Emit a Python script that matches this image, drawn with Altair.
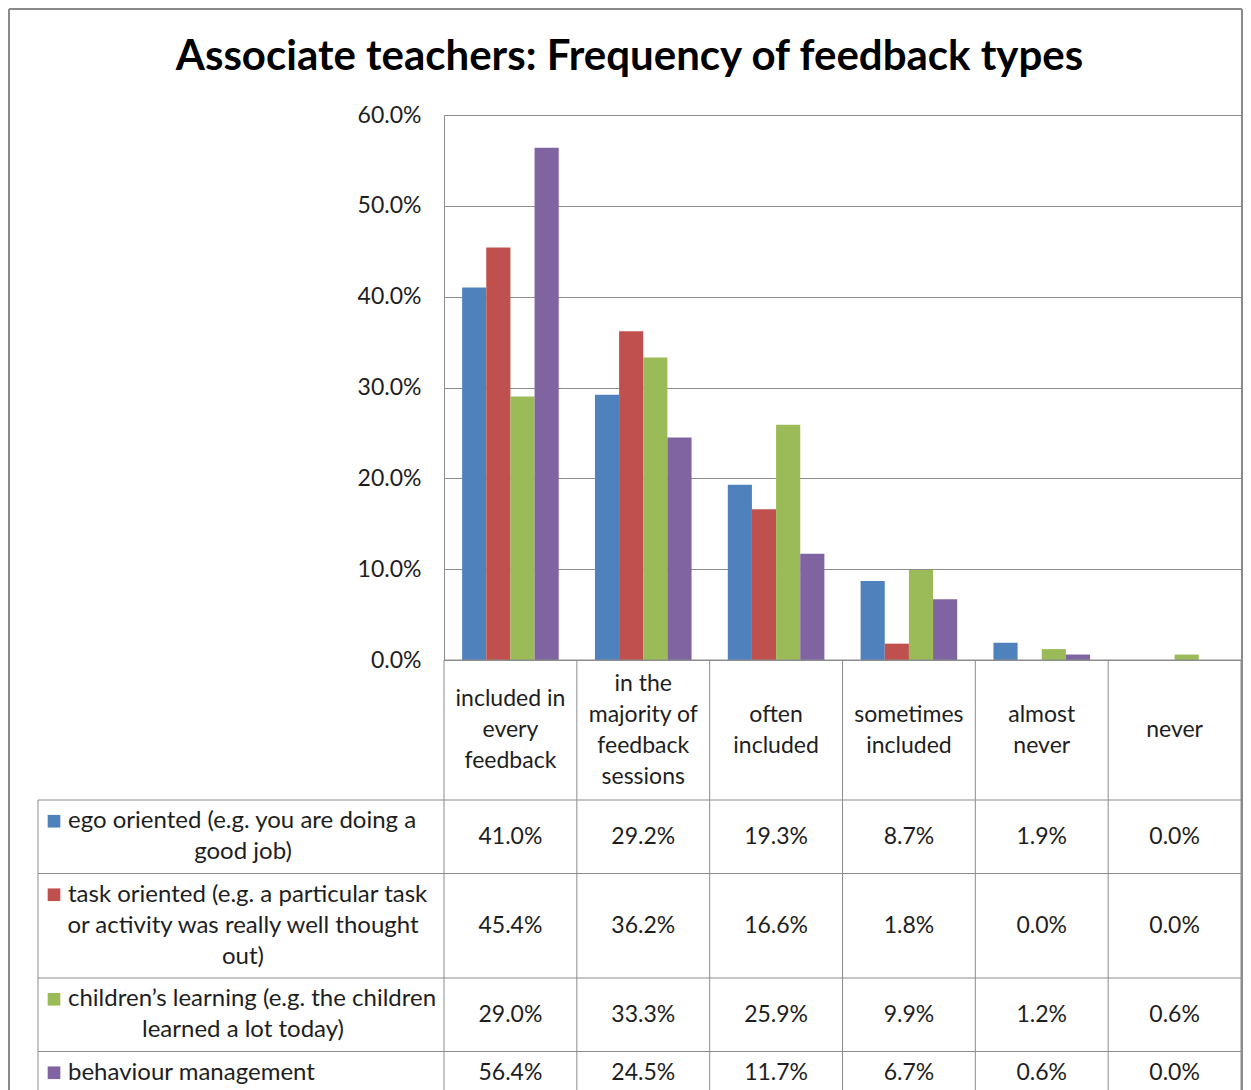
import altair as alt
import pandas as pd

# ---------------- data ----------------
title_text = "Associate teachers: Frequency of feedback types"
categories = [
    "included in\nevery\nfeedback",
    "in the\nmajority of\nfeedback\nsessions",
    "often\nincluded",
    "sometimes\nincluded",
    "almost\nnever",
    "never",
]
series = [
    "ego oriented (e.g. you are doing a\ngood job)",
    "task oriented  (e.g. a particular task\nor activity was really well thought\nout)",
    "children\u2019s learning (e.g. the children\nlearned a lot today)",
    "behaviour management",
]
colors = ["#4F81BD", "#C0504D", "#9BBB59", "#8064A2"]
ego = [41.0, 29.2, 19.3, 8.7, 1.9, 0.0]
task = [45.4, 36.2, 16.6, 1.8, 0.0, 0.0]
children = [29.0, 33.3, 25.9, 9.9, 1.2, 0.6]
behaviour = [56.4, 24.5, 11.7, 6.7, 0.6, 0.0]
values = [ego, task, children, behaviour]
y_ticks = [0, 10, 20, 30, 40, 50, 60]

# ---------------- layout (pixels relative to plot origin) ----------------
W, H = 797, 545
PAD_L, PAD_T = 436, 107
SVG_W, SVG_H = 1235, 1090
STEP = W / len(categories)
LINE_H = 31
FONT = "Lato"
TXT = "#1e1e1e"
GRID = "#8c8c8c"
FS = 23
FS_LAB = 24
LEFT_EDGE = -406
FIRST_X = -376
CONT_X = -201
SQ_X = -390
BORDER_L, BORDER_T, BORDER_R, BOTTOM = -435, -106, W + 1, 1100

cat_keys = [c.replace("\n", " ") for c in categories]
ser_keys = [s.replace("\n", " ") for s in series]

bar_rows = []
for si, vals in enumerate(values):
    for ci, v in enumerate(vals):
        bar_rows.append({"cat": cat_keys[ci], "ser": ser_keys[si], "val": v})
bar_df = pd.DataFrame(bar_rows)

# table geometry
header_lines = max(len(c.split("\n")) for c in categories)
header_top = H
header_bot = header_top + header_lines * LINE_H + 16
row_tops = []
y = header_bot
for s in series:
    row_tops.append(y)
    y += len(s.split("\n")) * LINE_H + 11.5
row_tops.append(y)

lines = []
lines.append({"x": 0, "x2": W, "y": header_top, "y2": header_top})
for i in range(len(categories) + 1):
    lines.append({"x": i * STEP, "x2": i * STEP, "y": header_top, "y2": BOTTOM})
lines.append({"x": LEFT_EDGE, "x2": LEFT_EDGE, "y": header_bot, "y2": BOTTOM})
for t in row_tops:
    lines.append({"x": LEFT_EDGE, "x2": W, "y": t, "y2": t})
lines_df = pd.DataFrame(lines)

border_df = pd.DataFrame([
    {"x": BORDER_L, "x2": BORDER_L, "y": BORDER_T, "y2": BOTTOM},
    {"x": BORDER_L, "x2": BORDER_R, "y": BORDER_T, "y2": BORDER_T},
    {"x": BORDER_R, "x2": BORDER_R, "y": BORDER_T, "y2": BOTTOM},
])

center_txt, cont_txt, left_txt, squares = [], [], [], []
hc = (header_top + header_bot) / 2
for ci, c in enumerate(categories):
    parts = c.split("\n")
    n = len(parts)
    for k, p in enumerate(parts):
        center_txt.append({"x": (ci + 0.5) * STEP, "y": hc + (k - (n - 1) / 2) * LINE_H, "t": p})
for si, s in enumerate(series):
    parts = s.split("\n")
    n = len(parts)
    rc = (row_tops[si] + row_tops[si + 1]) / 2
    for k, p in enumerate(parts):
        yy = rc + (k - (n - 1) / 2) * LINE_H
        if k == 0:
            left_txt.append({"x": FIRST_X, "y": yy, "t": p})
            squares.append({"x": SQ_X, "y": yy, "c": colors[si]})
        else:
            cont_txt.append({"x": CONT_X, "y": yy, "t": p})
    for ci, v in enumerate(values[si]):
        center_txt.append({"x": (ci + 0.5) * STEP, "y": rc, "t": f"{v:.1f}%"})
center_df = pd.DataFrame(center_txt)
cont_df = pd.DataFrame(cont_txt)
left_df = pd.DataFrame(left_txt)
sq_df = pd.DataFrame(squares)
title_df = pd.DataFrame([{"x": 629.5 - 8 - PAD_L, "y": -45, "t": title_text}])

# ---------------- charts ----------------
px = alt.Scale(domain=[0, W], nice=False, zero=False)
py = alt.Scale(domain=[0, H], nice=False, zero=False, reverse=True)
X = alt.X("x:Q", scale=px, axis=None)
X2 = alt.X2("x2:Q")
Y = alt.Y("y:Q", scale=py, axis=None)
Y2 = alt.Y2("y2:Q")

bars = alt.Chart(bar_df).mark_bar().encode(
    x=alt.X("cat:N", sort=cat_keys, scale=alt.Scale(paddingInner=0, paddingOuter=0), axis=None),
    xOffset=alt.XOffset("ser:N", sort=ser_keys, scale=alt.Scale(paddingInner=0, paddingOuter=0.75)),
    y=alt.Y(
        "val:Q",
        scale=alt.Scale(domain=[0, 60], nice=False),
        axis=alt.Axis(
            values=y_ticks,
            labelExpr="format(datum.value, '.1f') + '%'",
            ticks=False,
            labelPadding=23,
            labelFontSize=FS,
            labelFont=FONT,
            labelColor=TXT,
            grid=True,
            gridColor=GRID,
            gridOpacity=1,
            domainColor=GRID,
            title=None,
        ),
    ),
    color=alt.Color("ser:N", sort=ser_keys, scale=alt.Scale(domain=ser_keys, range=colors), legend=None),
)

table_lines = alt.Chart(lines_df).mark_rule(color=GRID, strokeWidth=1).encode(x=X, x2=X2, y=Y, y2=Y2)
border = alt.Chart(border_df).mark_rule(color="#8a8a8a", strokeWidth=2).encode(x=X, x2=X2, y=Y, y2=Y2)
ctext = alt.Chart(center_df).mark_text(font=FONT, fontSize=FS, color=TXT, align="center", baseline="middle").encode(x=X, y=Y, text="t:N")
ctext2 = alt.Chart(cont_df).mark_text(font=FONT, fontSize=FS_LAB, color=TXT, align="center", baseline="middle").encode(x=X, y=Y, text="t:N")
ltext = alt.Chart(left_df).mark_text(font=FONT, fontSize=FS_LAB, color=TXT, align="left", baseline="middle").encode(x=X, y=Y, text="t:N")
sq = alt.Chart(sq_df).mark_square(size=160, opacity=1, filled=True).encode(x=X, y=Y, color=alt.Color("c:N", scale=None))
title = alt.Chart(title_df).mark_text(font=FONT, fontSize=42, fontWeight="bold", color="#000000", align="center", baseline="alphabetic").encode(x=X, y=Y, text="t:N")

deco = alt.layer(table_lines, border, ctext, ctext2, ltext, sq, title)

chart = (
    alt.layer(bars, deco)
    .resolve_scale(x="independent", y="independent", color="independent")
    .properties(
        width=W,
        height=H,
        autosize=alt.AutoSizeParams(type="none"),
        padding={"left": PAD_L, "top": PAD_T, "right": SVG_W - PAD_L - W, "bottom": SVG_H - PAD_T - H},
        background="white",
    )
    .configure_view(stroke=None)
)

chart.save("out.html", embed_options={"renderer": "svg", "actions": False})
